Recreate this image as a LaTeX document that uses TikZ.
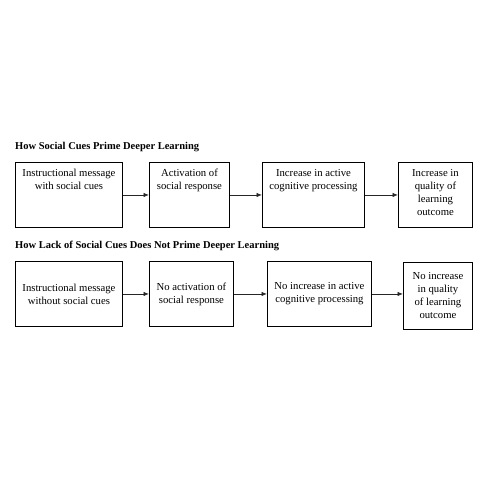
\documentclass[tikz,border=0pt]{standalone}
\usepackage{fontspec}
\setmainfont{Liberation Serif}
\usetikzlibrary{positioning,arrows.meta}
\tikzset{
  stagebox/.style={draw=black, line width=0.9pt, inner sep=0pt, anchor=north west},
  stagetext/.style={align=center, inner sep=0pt,
    font=\fontsize{10.7}{13}\selectfont},
  rowtitle/.style={anchor=west, inner sep=0pt,
    font=\fontsize{10.5}{13}\selectfont\bfseries},
  flow/.style={-{Latex[length=5.5pt,width=4.5pt]}, draw=black!85, line width=0.8pt}
}

\begin{document}
\begin{tikzpicture}[x=1pt,y=1pt,>=latex]
\useasboundingbox (0,0) rectangle (488,-488);

% with social cues
\node[rowtitle] (title1) at (15,-147) {How Social Cues Prime Deeper Learning};

\node[stagebox, minimum width=107pt, minimum height=65pt] (a1) at (15,-162) {};
\node[stagebox, minimum width=80pt,  minimum height=65pt] (a2) at (149,-162) {};
\node[stagebox, minimum width=102pt, minimum height=65pt] (a3) at (262,-162) {};
\node[stagebox, minimum width=74pt,  minimum height=65pt] (a4) at (398,-162) {};

\node[stagetext, below=7pt of a1.north] (a1t) {Instructional message\\with social cues};
\node[stagetext, below=7pt of a2.north] (a2t) {Activation of\\social response};
\node[stagetext, below=7pt of a3.north] (a3t) {Increase in active\\cognitive processing};
\node[stagetext, below=7pt of a4.north] (a4t) {Increase in\\quality of\\learning\\outcome};

\draw[flow] (a1.east) -- (a2.west);
\draw[flow] (a2.east) -- (a3.west);
\draw[flow] (a3.east) -- (a4.west);

% without social cues
\node[rowtitle] (title2) at (15,-246) {How Lack of Social Cues Does Not Prime Deeper Learning};

\node[stagebox, stagetext, minimum width=107pt, minimum height=65pt] (b1) at (15,-261)
  {Instructional message\\without social cues};
\node[stagebox, stagetext, minimum width=84pt,  minimum height=65pt] (b2) at (149,-261)
  {No activation of\\social response};
\node[stagebox, stagetext, minimum width=104pt, minimum height=65pt] (b3) at (267,-261)
  {No increase in active\\cognitive processing};
\node[stagebox, stagetext, minimum width=69pt,  minimum height=67pt] (b4) at (403,-262)
  {No increase\\in quality\\of learning\\outcome};

\draw[flow] (b1.east) -- (b2.west);
\draw[flow] (b2.east) -- (b3.west);
\draw[flow] (b3.east) -- (b3.east -| b4.west);
\end{tikzpicture}
\end{document}
